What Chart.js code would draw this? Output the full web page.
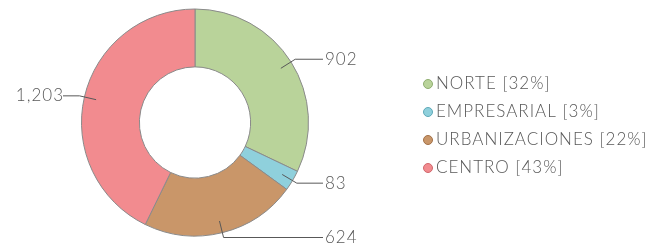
<!DOCTYPE html>
<html lang="es">
<head>
    <meta charset="UTF-8">
    <title>Distribución por zona</title>
    <script src="https://cdn.jsdelivr.net/npm/chart.js"></script>
    <style>
        html, body { margin: 0; padding: 0; background: #fff; }
        #wrap { width: 667px; height: 244px; }
    </style>
</head>
<body>
    <div id="wrap"><canvas id="zonaChart"></canvas></div>

    <script>
        // datos
        const zonas = ['NORTE', 'EMPRESARIAL', 'URBANIZACIONES', 'CENTRO'];
        const valores = [902, 83, 624, 1203];
        const etiquetasValor = ['902', '83', '624', '1,203'];
        const porcentajes = ['32%', '3%', '22%', '43%'];
        const colores = ['#b9d39a', '#8fd0dc', '#c99669', '#f28b8f'];
        const bordesLeyenda = ['#8fae70', '#5fa9b8', '#a27148', '#d0676c'];

        const fuente = '"Lato", "Open Sans", sans-serif';
        const gris = '#585858';

        // lineas guia y numeros junto a cada sector
        const etiquetasPlugin = {
            id: 'etiquetas',
            afterDatasetsDraw(chart) {
                const ctx = chart.ctx;
                const arcs = chart.getDatasetMeta(0).data;
                ctx.save();
                ctx.strokeStyle = gris;
                ctx.lineWidth = 1;
                ctx.fillStyle = gris;
                ctx.font = '300 17px ' + fuente;
                ctx.letterSpacing = '1px';
                ctx.textBaseline = 'middle';
                arcs.forEach((arc, i) => {
                    const p = arc.getProps(['x', 'y', 'startAngle', 'endAngle', 'outerRadius'], true);
                    const a = (p.startAngle + p.endAngle) / 2;
                    const r1 = p.outerRadius - 12;
                    const r2 = p.outerRadius + 5;
                    const x1 = p.x + Math.cos(a) * r1, y1 = p.y + Math.sin(a) * r1;
                    const x2 = p.x + Math.cos(a) * r2, y2 = p.y + Math.sin(a) * r2;
                    const derecha = Math.cos(a) >= -0.2;
                    const x3 = derecha ? p.x + 128 : p.x - 132;
                    ctx.beginPath();
                    ctx.moveTo(x1, y1);
                    ctx.lineTo(x2, y2);
                    ctx.lineTo(x3, y2);
                    ctx.stroke();
                    ctx.textAlign = derecha ? 'left' : 'right';
                    ctx.fillText(etiquetasValor[i], derecha ? x3 + 2 : x3 + 1, y2);
                });
                ctx.restore();
            }
        };

        // leyenda a la derecha
        const leyendaPlugin = {
            id: 'leyenda',
            afterDraw(chart) {
                const ctx = chart.ctx;
                ctx.save();
                ctx.font = '300 17px ' + fuente;
                ctx.letterSpacing = '1px';
                ctx.textBaseline = 'middle';
                ctx.textAlign = 'left';
                zonas.forEach((z, i) => {
                    const y = 84 + i * 28;
                    ctx.beginPath();
                    ctx.arc(428, y, 4.5, 0, Math.PI * 2);
                    ctx.fillStyle = colores[i];
                    ctx.fill();
                    ctx.strokeStyle = bordesLeyenda[i];
                    ctx.lineWidth = 1;
                    ctx.stroke();
                    ctx.fillStyle = gris;
                    ctx.fillText(z + ' [' + porcentajes[i] + ']', 436, y);
                });
                ctx.restore();
            }
        };

        new Chart(document.getElementById('zonaChart').getContext('2d'), {
            type: 'doughnut',
            data: {
                labels: zonas,
                datasets: [{
                    data: valores,
                    backgroundColor: colores,
                    borderColor: '#8a8a8a',
                    borderWidth: 1,
                    hoverOffset: 0
                }]
            },
            options: {
                responsive: true,
                maintainAspectRatio: false,
                animation: false,
                cutout: '49%',
                layout: {
                    padding: { left: 81, right: 358, top: 8, bottom: 7 }
                },
                plugins: {
                    legend: { display: false },
                    tooltip: { enabled: false }
                }
            },
            plugins: [etiquetasPlugin, leyendaPlugin]
        });
    </script>
</body>
</html>
